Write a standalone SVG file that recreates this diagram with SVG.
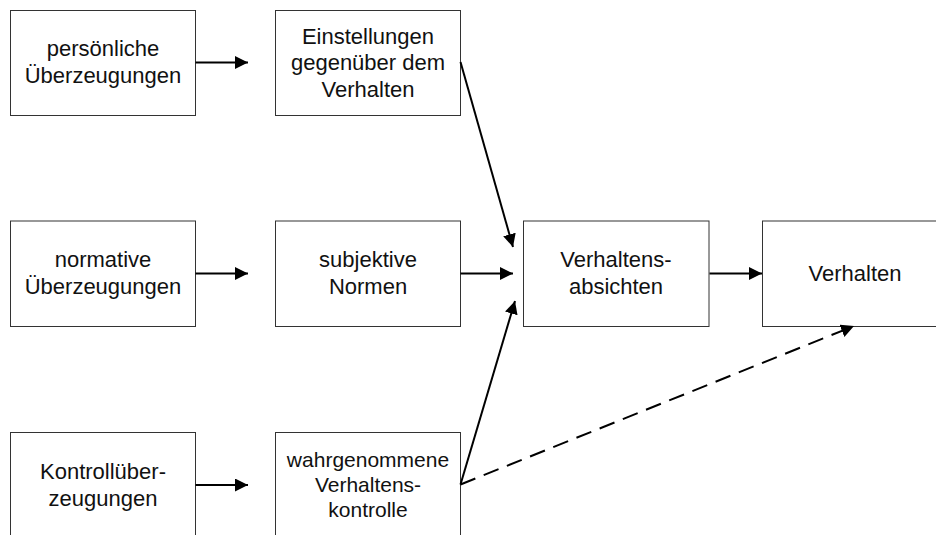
<svg xmlns="http://www.w3.org/2000/svg" width="936" height="535" viewBox="0 0 936 535">
<style>
.box{fill:#fff;stroke:#333;stroke-width:1}
.t{font-family:"Liberation Sans",Arial,sans-serif;font-size:22px;fill:#111;text-anchor:middle}
.c{stroke:#000;stroke-width:2;fill:none;marker-end:url(#ah)}
.d{stroke-dasharray:16,9}
</style>
<defs>
<marker id="ah" markerUnits="userSpaceOnUse" markerWidth="14" markerHeight="14" refX="13" refY="6.5" orient="auto">
<path d="M0,0 L13,6.5 L0,13 z" fill="#000"/>
</marker>
</defs>
<rect width="936" height="535" fill="#fff"/>
<g id="n1"><rect class="box" x="10.5" y="10.5" width="185" height="105"/><text class="t" x="103" y="56">persönliche</text><text class="t" x="103" y="82.5">Überzeugungen</text></g>
<g id="n2"><rect class="box" x="275.5" y="10.5" width="185" height="105"/><text class="t" x="368" y="43.5">Einstellungen</text><text class="t" x="368" y="70">gegenüber dem</text><text class="t" x="368" y="96.5">Verhalten</text></g>
<g id="n3"><rect class="box" x="10.5" y="221" width="185" height="105.5"/><text class="t" x="103" y="267">normative</text><text class="t" x="103" y="293.5">Überzeugungen</text></g>
<g id="n4"><rect class="box" x="275.5" y="221" width="185" height="105.5"/><text class="t" x="368" y="267">subjektive</text><text class="t" x="368" y="293.5">Normen</text></g>
<g id="n5"><rect class="box" x="523.5" y="221" width="185.5" height="105.5"/><text class="t" x="616" y="267">Verhaltens-</text><text class="t" x="616" y="294">absichten</text></g>
<g id="n6"><rect class="box" x="762.5" y="221" width="185" height="105.5"/><text class="t" x="855" y="281">Verhalten</text></g>
<g id="n7"><rect class="box" x="10.5" y="432.5" width="185" height="106"/><text class="t" x="103" y="478.5">Kontrollüber-</text><text class="t" x="103" y="505.5">zeugungen</text></g>
<g id="n8"><rect class="box" x="275.5" y="432.5" width="185" height="106"/><text class="t" x="368" y="466.5" style="font-size:21px">wahrgenommene</text><text class="t" x="368" y="491.5" style="font-size:21px">Verhaltens-</text><text class="t" x="368" y="516.5" style="font-size:21px">kontrolle</text></g>
<g id="connectors">
<line class="c" x1="195.5" y1="62.5" x2="248" y2="62.5"/>
<line class="c" x1="195.5" y1="273.5" x2="248" y2="273.5"/>
<line class="c" x1="195.5" y1="485" x2="248" y2="485"/>
<line class="c" x1="460.5" y1="273.5" x2="513" y2="273.5"/>
<line class="c" x1="709.5" y1="273.5" x2="762" y2="273.5"/>
<line class="c" x1="460.5" y1="62" x2="513" y2="247"/>
<line class="c" x1="460.5" y1="484.5" x2="515" y2="301"/>
<line class="c d" x1="460.5" y1="484.5" x2="854" y2="326"/>
</g>
</svg>
